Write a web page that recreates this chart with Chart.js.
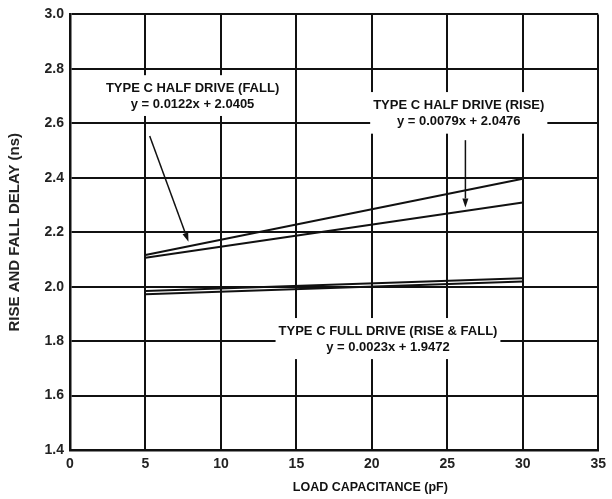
<!DOCTYPE html>
<html>
<head>
<meta charset="utf-8">
<script src="https://cdn.jsdelivr.net/npm/chart.js@4.4.1/dist/chart.umd.min.js"></script>
<style>
  html, body { margin: 0; padding: 0; background: #fff; }
  #wrap { width: 612px; height: 499px; }
</style>
</head>
<body>
<div id="wrap"><canvas id="c" width="612" height="499"></canvas></div>
<script>
// Load capacitance (pF) at the measured end points
const loadCapacitance = [5, 30];

// Rise / fall delay (ns)
const halfDriveFall = [2.116, 2.396];
const halfDriveRise = [2.106, 2.309];
const fullDriveRise = [1.984, 2.031];
const fullDriveFall = [1.972, 2.019];

// Axis ticks
const xTickValues = [0, 5, 10, 15, 20, 25, 30, 35];
const yTickValues = [1.4, 1.6, 1.8, 2.0, 2.2, 2.4, 2.6, 2.8, 3.0];

// Callout texts
const labelHalfFall = ['TYPE C HALF DRIVE (FALL)', 'y = 0.0122x + 2.0405'];
const labelHalfRise = ['TYPE C HALF DRIVE (RISE)', 'y = 0.0079x + 2.0476'];
const labelFullDrive = ['TYPE C FULL DRIVE (RISE & FALL)', 'y = 0.0023x + 1.9472'];

const xTitle = 'LOAD CAPACITANCE (pF)';
const yTitle = 'RISE AND FALL DELAY (ns)';

const INK = '#111';
const FONT = '"Liberation Sans", Arial, Helvetica, sans-serif';

function toPoints(xs, ys) {
  return xs.map((v, i) => ({ x: v, y: ys[i] }));
}

function series(label, values) {
  return {
    label,
    data: toPoints(loadCapacitance, values),
    showLine: true,
    borderColor: INK,
    borderWidth: 2,
    pointRadius: 0,
    fill: false,
    tension: 0
  };
}

// Callouts placed in data coordinates (one y per text line)
const callouts = [
  { lines: labelHalfFall, x: 8.12, y: [2.729, 2.671] },
  { lines: labelHalfRise, x: 25.76, y: [2.667, 2.606] },
  { lines: labelFullDrive, x: 21.07, y: [1.837, 1.778] }
];

const arrows = [
  { from: [5.28, 2.553], to: [7.85, 2.165] },
  { from: [26.2, 2.538], to: [26.2, 2.291] }
];

const calloutPlugin = {
  id: 'callouts',
  afterDatasetsDraw(chart) {
    const { ctx, scales: { x, y } } = chart;
    ctx.save();
    ctx.font = 'bold 13px ' + FONT;
    ctx.textAlign = 'center';
    ctx.textBaseline = 'middle';
    callouts.forEach(c => {
      const cx = x.getPixelForValue(c.x);
      const ys = c.y.map(v => y.getPixelForValue(v));
      const w = Math.max(...c.lines.map(t => ctx.measureText(t).width));
      ctx.fillStyle = '#fff';
      ctx.fillRect(cx - w / 2 - 3, ys[0] - 13, w + 6, ys[ys.length - 1] - ys[0] + 25);
      ctx.fillStyle = INK;
      c.lines.forEach((t, i) => ctx.fillText(t, cx, ys[i]));
    });

    ctx.strokeStyle = INK;
    ctx.fillStyle = INK;
    ctx.lineWidth = 1.5;
    arrows.forEach(a => {
      const x0 = x.getPixelForValue(a.from[0]), y0 = y.getPixelForValue(a.from[1]);
      const x1 = x.getPixelForValue(a.to[0]), y1 = y.getPixelForValue(a.to[1]);
      const ang = Math.atan2(y1 - y0, x1 - x0);
      const len = 9, half = 3;
      const bx = x1 - len * Math.cos(ang), by = y1 - len * Math.sin(ang);
      ctx.beginPath();
      ctx.moveTo(x0, y0);
      ctx.lineTo(bx, by);
      ctx.stroke();
      ctx.beginPath();
      ctx.moveTo(x1, y1);
      ctx.lineTo(bx + half * Math.sin(ang), by - half * Math.cos(ang));
      ctx.lineTo(bx - half * Math.sin(ang), by + half * Math.cos(ang));
      ctx.closePath();
      ctx.fill();
    });

    // x-axis title
    ctx.font = 'bold 12.5px ' + FONT;
    ctx.fillStyle = INK;
    ctx.fillText(xTitle, x.getPixelForValue(19.9), y.bottom + 38);
    ctx.restore();
  }
};

new Chart(document.getElementById('c'), {
  type: 'scatter',
  data: {
    datasets: [
      series('Type C half drive (fall)', halfDriveFall),
      series('Type C half drive (rise)', halfDriveRise),
      series('Type C full drive (rise)', fullDriveRise),
      series('Type C full drive (fall)', fullDriveFall)
    ]
  },
  options: {
    responsive: false,
    animation: false,
    events: [],
    layout: { padding: { top: 13, right: 12, left: 0, bottom: 0 } },
    plugins: {
      legend: { display: false },
      tooltip: { enabled: false }
    },
    scales: {
      x: {
        type: 'linear',
        min: 0,
        max: 35,
        afterBuildTicks(scale) { scale.ticks = xTickValues.map(v => ({ value: v })); },
        afterFit(scale) { scale.height = 49; },
        grid: { color: INK, lineWidth: 2, drawTicks: false },
        border: { display: true, color: INK, width: 2.5 },
        ticks: {
          color: '#222',
          font: { family: FONT, size: 14, weight: 'bold' },
          padding: 6,
          maxRotation: 0,
          callback: v => String(v)
        }
      },
      y: {
        type: 'linear',
        min: 1.4,
        max: 3.0,
        afterBuildTicks(scale) { scale.ticks = yTickValues.map(v => ({ value: v })); },
        afterFit(scale) { scale.width = 70; },
        grid: { color: INK, lineWidth: 2, drawTicks: false },
        border: { display: true, color: INK, width: 2.5 },
        title: {
          display: true,
          text: yTitle,
          color: '#222',
          font: { family: FONT, size: 15, weight: 'bold' },
          padding: { top: 6, bottom: 4 }
        },
        ticks: {
          color: '#222',
          font: { family: FONT, size: 14, weight: 'bold' },
          padding: 6,
          callback: v => Number(v).toFixed(1)
        }
      }
    }
  },
  plugins: [calloutPlugin]
});
</script>
</body>
</html>
